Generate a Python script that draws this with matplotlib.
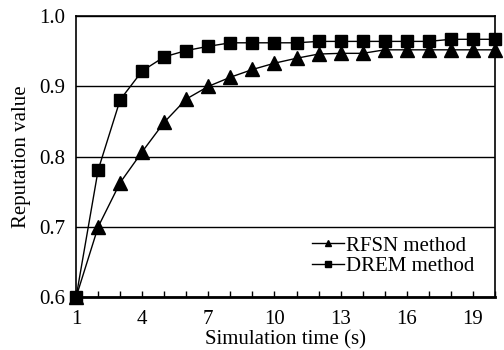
import matplotlib
matplotlib.use("Agg")
import matplotlib.pyplot as plt
from matplotlib.ticker import MultipleLocator

plt.rcParams['font.family'] = ['Liberation Serif', 'DejaVu Serif']

# simulation time (s)
times = list(range(1, 21))
rfsn = [0.60, 0.70, 0.763, 0.807, 0.849, 0.882, 0.90, 0.913, 0.924, 0.933,
        0.940, 0.946, 0.947, 0.947, 0.952, 0.952, 0.952, 0.952, 0.952, 0.952]
drem = [0.60, 0.781, 0.881, 0.922, 0.942, 0.951, 0.957, 0.962, 0.962, 0.962,
        0.962, 0.964, 0.964, 0.964, 0.964, 0.964, 0.964, 0.967, 0.967, 0.967]
xticks = [1, 4, 7, 10, 13, 16, 19]
yticks = [0.6, 0.7, 0.8, 0.9, 1.0]

fig = plt.figure(figsize=(5.04, 3.5), dpi=100)
ax = fig.add_axes([0.151, 0.151, 0.831, 0.803])

ax.plot(times, rfsn, 'k-^', lw=1.0, markersize=10, clip_on=False, zorder=3,
        label='RFSN method')
ax.plot(times, drem, 'k-s', lw=1.0, markersize=8.5, clip_on=False, zorder=3,
        label='DREM method')

ax.set_xlim(1, 20)
ax.set_ylim(0.6, 1.0)
ax.set_xticks(xticks)
ax.xaxis.set_minor_locator(MultipleLocator(1))
ax.set_yticks(yticks)
ax.set_yticklabels(['%.1f' % v for v in yticks])
ax.tick_params(axis='x', which='both', direction='in', length=4, width=1,
               labelsize=15, pad=9)
ax.tick_params(axis='y', length=0, labelsize=15, pad=8)
ax.grid(True, axis='y', color='k', lw=1)
ax.set_axisbelow(True)
for s in ax.spines.values():
    s.set_linewidth(1.2)
ax.spines['bottom'].set_linewidth(2)

ax.set_xlabel('Simulation time (s)', fontsize=15, labelpad=1)
ax.set_ylabel('Reputation value', fontsize=15, labelpad=6)

ax.legend(loc='lower right', frameon=False, fontsize=15, markerscale=0.5,
          handlelength=1.5, handletextpad=0.1, labelspacing=0.05,
          borderaxespad=0.6)

fig.savefig('out.png', dpi=100)
